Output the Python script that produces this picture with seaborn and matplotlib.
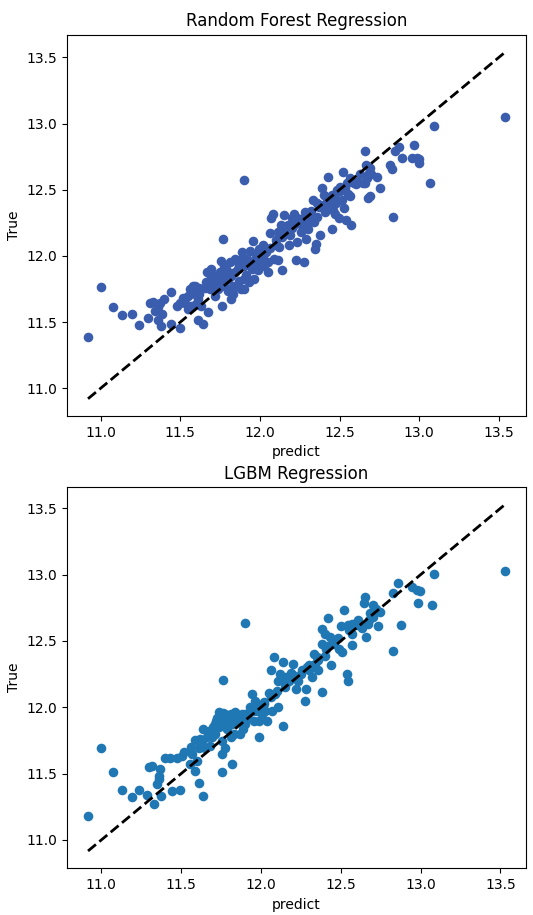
import matplotlib
matplotlib.use("Agg")
import matplotlib.pyplot as plt
import seaborn as sns

# values (log sale price, predicted vs true)
rf_pred = [10.92, 11.0, 13.54, 13.09, 11.90, 12.835, 13.07, 11.075, 11.135, 11.198,
           11.24, 11.294, 11.308, 11.325, 11.34, 11.36, 11.37, 11.36, 11.38, 11.40,
           11.385, 11.444, 11.444, 11.48, 11.496, 11.517, 11.569, 11.579, 11.59, 11.61,
           11.61, 11.64, 11.63, 11.652, 11.673, 11.683, 11.704, 11.719, 11.735, 11.756,
           11.765, 11.76, 11.777, 11.788, 11.798, 11.82, 11.83, 11.84, 11.86, 11.87,
           11.88, 11.90, 11.91, 11.92, 11.93, 11.95, 11.954, 11.965, 11.985, 12.006,
           12.027, 12.04, 12.05, 12.06, 12.07, 12.08, 12.09, 12.10, 12.11, 12.12,
           12.14, 12.152, 12.163, 12.173, 12.19, 12.20, 12.215, 12.225, 12.235, 12.246,
           12.256, 12.277, 12.28, 12.287, 12.30, 12.32, 12.33, 12.34, 12.344, 12.35,
           12.37, 12.38, 12.39, 12.40, 12.41, 12.425, 12.43, 12.45, 12.455, 12.46,
           12.47, 12.485, 12.494, 12.515, 12.52, 12.527, 12.536, 12.543, 12.548, 12.565,
           12.573, 12.59, 12.65, 12.658, 12.665, 12.673, 12.677, 12.683, 12.69, 12.69,
           12.735, 12.756, 12.814, 12.829, 12.85, 12.87, 12.89, 12.965, 12.954, 12.985,
           12.996, 13.00, 11.558, 11.59, 11.62, 11.67, 11.694, 11.715, 11.746, 11.777,
           11.81, 11.82, 11.84, 11.85, 11.86, 11.89, 11.90, 11.93, 11.975, 11.996,
           12.017, 11.94, 11.89, 11.715, 11.735, 11.683, 11.527, 11.548, 11.60, 12.11,
           12.13, 12.18, 12.20, 12.235, 12.266, 12.31, 12.36, 12.39, 12.42, 12.44,
           12.47, 12.50, 12.567, 12.61, 12.63, 12.017, 12.05, 11.985, 11.87, 11.798,
           11.83, 11.90, 11.70, 11.74, 11.78, 11.80, 11.76, 11.72, 11.66, 11.62,
           11.55, 11.50, 11.92, 11.96, 12.00, 12.02, 12.06, 12.10, 12.14, 12.16,
           12.22, 12.26, 12.32, 12.36, 12.42, 12.48, 12.50, 12.55, 12.60, 12.66,
           12.70, 12.30]
rf_true = [11.39, 11.765, 13.052, 12.98, 12.57, 12.29, 12.55, 11.617, 11.553, 11.558,
           11.48, 11.528, 11.64, 11.65, 11.584, 11.61, 11.647, 11.515, 11.47, 11.673,
           11.558, 11.724, 11.482, 11.622, 11.457, 11.678, 11.622, 11.77, 11.71, 11.673,
           11.515, 11.482, 11.622, 11.755, 11.576, 11.864, 11.813, 11.698, 11.75, 11.958,
           12.126, 11.622, 11.77, 11.90, 11.825, 11.673, 11.77, 11.876, 11.953, 11.81,
           11.75, 11.927, 11.856, 11.978, 11.80, 11.90, 12.11, 11.825, 11.953, 12.004,
           11.927, 12.03, 11.876, 12.17, 12.284, 12.32, 11.978, 12.12, 11.966, 12.067,
           11.89, 12.309, 12.18, 12.233, 12.156, 12.284, 12.32, 11.966, 12.106, 12.245,
           12.18, 11.953, 12.335, 12.13, 12.245, 12.284, 12.424, 12.258, 12.055, 12.093,
           12.373, 12.16, 12.51, 12.46, 12.335, 12.594, 12.41, 12.46, 12.205, 12.35,
           12.32, 12.50, 12.284, 12.424, 12.632, 12.36, 12.513, 12.27, 12.55, 12.45,
           12.233, 12.55, 12.55, 12.793, 12.69, 12.589, 12.436, 12.627, 12.665, 12.45,
           12.594, 12.513, 12.69, 12.66, 12.793, 12.82, 12.737, 12.836, 12.737, 12.737,
           12.70, 12.73, 11.75, 11.775, 11.71, 11.876, 11.90, 11.85, 11.876, 11.927,
           11.953, 11.85, 11.978, 11.77, 11.90, 11.978, 11.825, 11.953, 12.004, 12.055,
           12.08, 12.04, 12.03, 11.77, 11.81, 11.75, 11.647, 11.597, 11.635, 12.18,
           12.233, 12.08, 12.207, 12.284, 12.233, 12.32, 12.297, 12.386, 12.436, 12.386,
           12.436, 12.49, 12.59, 12.56, 12.615, 11.953, 11.953, 11.89, 11.927, 11.737,
           11.71, 11.75, 11.84, 11.86, 11.84, 11.88, 11.80, 11.80, 11.80, 11.76,
           11.70, 11.64, 11.94, 11.96, 11.98, 12.00, 12.06, 12.08, 12.14, 12.22,
           12.24, 12.28, 12.34, 12.40, 12.44, 12.40, 12.52, 12.47, 12.54, 12.55,
           12.62, 12.20]

lgbm_pred = [10.917, 11.0, 13.53, 13.085, 11.898, 12.83, 13.07, 12.985, 12.88, 12.944,
             12.975, 12.996, 12.86, 12.83, 12.746, 12.735, 12.704, 12.652, 12.648, 12.66,
             12.67, 12.523, 12.502, 12.544, 12.57, 12.57, 12.54, 12.544, 12.423, 12.38,
             12.40, 12.43, 12.38, 12.41, 12.46, 12.49, 12.51, 12.44, 12.33, 12.34,
             12.36, 12.38, 12.32, 12.29, 12.275, 12.28, 12.235, 12.203, 12.22, 12.173,
             12.14, 12.152, 12.08, 12.065, 12.11, 12.12, 12.09, 12.05, 12.067, 12.11,
             12.14, 12.04, 12.027, 12.006, 11.985, 11.975, 11.944, 11.954, 11.933, 11.91,
             11.90, 11.88, 11.86, 11.84, 11.82, 11.81, 11.79, 11.777, 11.76, 11.756,
             11.746, 11.735, 11.725, 11.715, 11.756, 11.777, 11.756, 11.82, 11.756, 11.694,
             11.673, 11.652, 11.63, 11.61, 11.60, 11.59, 11.569, 11.59, 11.61, 11.635,
             11.558, 11.506, 11.475, 11.433, 11.40, 11.37, 11.36, 11.364, 11.35, 11.377,
             11.33, 11.298, 11.315, 11.288, 11.235, 11.194, 11.127, 11.073, 11.444, 11.49,
             11.683, 11.83, 11.87, 11.89, 11.90, 11.985, 12.017, 12.16, 12.19, 12.25,
             12.30, 12.35, 12.40, 12.61, 12.57, 12.704, 12.685, 12.63, 11.82, 11.84,
             11.87, 11.765, 11.79, 11.735, 11.715, 11.66, 11.64, 11.81, 11.965, 11.996,
             11.72, 11.74, 11.77, 11.80, 11.83, 11.85, 11.88, 11.76, 11.70, 11.68,
             11.62, 11.56, 11.52, 11.92, 11.95, 11.98, 12.02, 12.06, 12.10, 12.15,
             12.20, 12.26, 12.30, 12.36, 12.42, 12.48, 12.55, 12.60, 12.68, 12.72]
lgbm_true = [11.179, 11.697, 13.03, 13.005, 12.636, 12.424, 12.775, 12.79, 12.62, 12.91,
             12.884, 12.876, 12.934, 12.86, 12.72, 12.61, 12.77, 12.833, 12.79, 12.53,
             12.63, 12.737, 12.61, 12.62, 12.556, 12.467, 12.25, 12.20, 12.677, 12.594,
             12.55, 12.53, 12.48, 12.44, 12.48, 12.44, 12.417, 12.316, 12.404, 12.33,
             12.28, 12.114, 12.227, 12.303, 12.05, 12.14, 12.20, 12.328, 12.14, 12.20,
             12.34, 12.152, 12.38, 12.283, 12.20, 12.25, 12.10, 12.11, 11.975, 12.00,
             11.861, 11.899, 11.975, 11.95, 11.778, 11.975, 12.10, 11.899, 12.00, 11.95,
             11.874, 11.95, 11.899, 11.962, 11.874, 11.95, 11.899, 11.95, 12.207, 11.937,
             11.886, 11.848, 11.92, 11.798, 11.747, 11.697, 11.646, 11.571, 11.515, 11.773,
             11.823, 11.697, 11.747, 11.697, 11.596, 11.753, 11.646, 11.52, 11.432, 11.331,
             11.571, 11.634, 11.616, 11.616, 11.616, 11.533, 11.482, 11.457, 11.419, 11.331,
             11.273, 11.553, 11.558, 11.338, 11.38, 11.323, 11.38, 11.513, 11.37, 11.374,
             11.71, 11.798, 11.798, 11.836, 11.95, 11.899, 12.025, 12.23, 12.26, 12.25,
             12.28, 12.38, 12.39, 12.657, 12.63, 12.68, 12.71, 12.60, 11.937, 11.91,
             11.92, 11.874, 11.836, 11.962, 11.874, 11.773, 11.836, 11.773, 12.05, 12.00,
             11.90, 11.93, 11.91, 11.93, 11.94, 11.90, 11.93, 11.96, 11.85, 11.80,
             11.76, 11.70, 11.66, 11.92, 11.97, 12.00, 12.04, 12.08, 12.12, 12.18,
             12.24, 12.28, 12.32, 12.36, 12.46, 12.52, 12.58, 12.62, 12.66, 12.74]


def plot_pred_vs_true(ax, pred, true, title, color):
    sns.scatterplot(x=pred, y=true, ax=ax, color=color, s=48, linewidth=0)
    lo, hi = min(pred), max(pred)
    ax.plot([lo, hi], [lo, hi], 'k--', lw=2)
    ax.set_title(title)
    ax.set_xlabel('predict')
    ax.set_ylabel('True')
    ax.set_xticks([11.0, 11.5, 12.0, 12.5, 13.0, 13.5])
    ax.set_yticks([11.0, 11.5, 12.0, 12.5, 13.0, 13.5])


fig, axes = plt.subplots(2, 1, figsize=(5.33, 9.15), dpi=100)
plt.subplots_adjust(left=0.126, right=0.987, top=0.962, bottom=0.051, hspace=0.186)

plot_pred_vs_true(axes[0], rf_pred, rf_true, 'Random Forest Regression', '#3a5dae')
plot_pred_vs_true(axes[1], lgbm_pred, lgbm_true, 'LGBM Regression', '#1f77b4')

plt.savefig('out.png', dpi=100)
plt.close()
